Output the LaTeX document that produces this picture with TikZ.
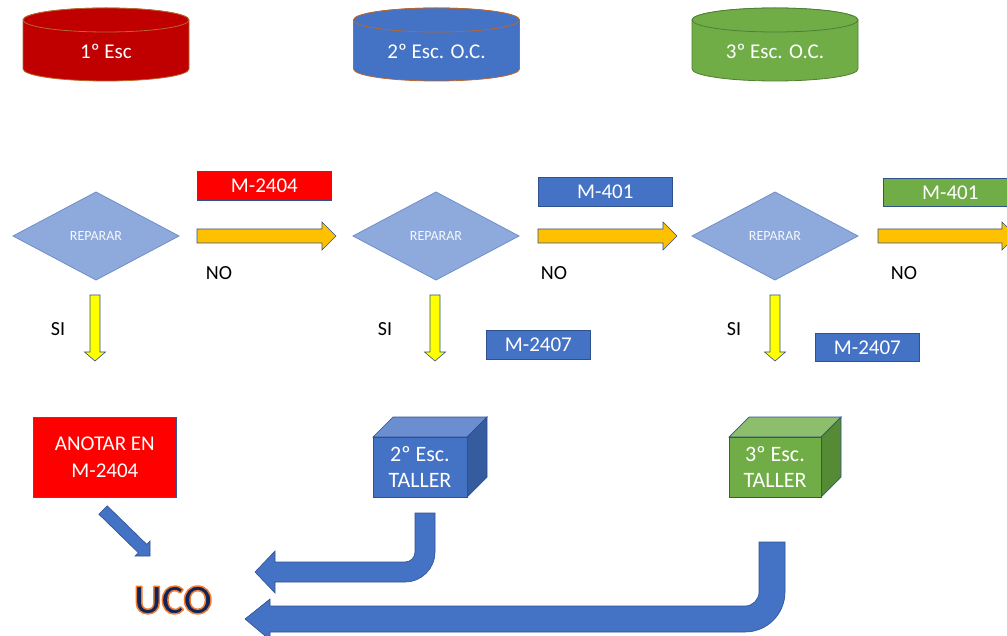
\documentclass[tikz,border=0pt]{standalone}
\usepackage{fontspec}
\setmainfont{Carlito}
\usetikzlibrary{shapes.geometric}
\definecolor{cylred}{HTML}{C00000}
\definecolor{offblue}{HTML}{4472C4}
\definecolor{offgreen}{HTML}{70AD47}
\definecolor{offline}{HTML}{2F528F}
\definecolor{cylbrown}{HTML}{B8672E}
\definecolor{greenline}{HTML}{507E32}
\definecolor{diafill}{HTML}{8EA9DB}
\definecolor{diafline}{HTML}{6F8FCB}
\definecolor{orangearr}{HTML}{FFC000}
\definecolor{yellowarr}{HTML}{FFFF00}
\definecolor{brightred}{HTML}{FF0000}
\definecolor{bluetop}{HTML}{6A8ED0}
\definecolor{blueside}{HTML}{355C9F}
\definecolor{greentop}{HTML}{8DBE6C}
\definecolor{greenside}{HTML}{568B35}
\definecolor{ucoblue}{HTML}{10235A}
\newcommand\drawcylinder[3]{%
  \filldraw[fill=#2,draw=#3,line width=0.8pt]
    ({#1-83},20) -- ({#1-83},69)
    arc[start angle=180,end angle=360,x radius=83pt,y radius=12pt]
    -- ({#1+83},20)
    arc[start angle=0,end angle=180,x radius=83pt,y radius=12pt] -- cycle;
  \filldraw[fill=#2,draw=#3,line width=0.8pt] (#1,20) ellipse[x radius=83pt,y radius=12pt];
}
\newcommand\drawdiamond[2]{%
  \filldraw[fill=diafill,draw=diafline,line width=0.8pt]
    ({#1-83},236) -- (#1,192) -- ({#1+83},236) -- (#1,280) -- cycle;
  \node[diatext] (#2) at (#1,236) {REPARAR};
}
\newcommand\orangearrow[2]{%
  \filldraw[fill=orangearr,draw=offline,line width=0.6pt]
    (#1,229) -- ({#2-14},229) -- ({#2-14},222) -- (#2,236) -- ({#2-14},250)
    -- ({#2-14},243) -- (#1,243) -- cycle;
}
\newcommand\yellowarrow[1]{%
  \filldraw[fill=yellowarr,draw=offline,line width=0.6pt]
    ({#1-5},295) -- ({#1+5},295) -- ({#1+5},352) -- ({#1+10.5},352) -- (#1,361)
    -- ({#1-10.5},352) -- ({#1-5},352) -- cycle;
}
\tikzset{
  cyltext/.style={text=white,font=\fontsize{21}{21}\selectfont,inner sep=0pt},
  diatext/.style={text=white!92!diafill,font=\fontsize{14}{14}\selectfont,inner sep=0pt},
  labelbox/.style={draw=offline,line width=0.7pt,text=white,font=\fontsize{21}{21}\selectfont,inner sep=0pt,anchor=north west},
  plain/.style={text=black,font=\fontsize{20}{20}\selectfont,inner sep=0pt},
  cubetext/.style={text=white,font=\fontsize{22}{26}\selectfont,align=center,inner sep=0pt},
  bigarrow/.style={fill=offblue,draw=offline,line width=0.6pt}
}
\begin{document}
\begin{tikzpicture}[x=1pt,y=-1pt]
\useasboundingbox (0,0) rectangle (1007,636);
\clip (0,0) rectangle (1007,636);

% cylinders
\drawcylinder{106}{cylred}{cylbrown}
\node[cyltext] (c1) at (106,51) {1º Esc};
\drawcylinder{436.5}{offblue}{cylbrown}
\node[cyltext] (c2) at (436.5,51) {2º Esc. O.C.};
\drawcylinder{775}{offgreen}{greenline}
\node[cyltext] (c3) at (775,51) {3º Esc. O.C.};

% diamonds
\drawdiamond{96}{d1}
\drawdiamond{436}{d2}
\drawdiamond{775}{d3}

% orange NO arrows
\orangearrow{197}{336}
\orangearrow{538}{677}
\orangearrow{878}{1016}

% labels above orange arrows
\node[labelbox,fill=brightred,minimum width=134pt,minimum height=29pt] (m2404) at (197,171) {M-2404};
\node[labelbox,fill=offblue,minimum width=134pt,minimum height=29pt] (m401a) at (538,177) {M-401};
\node[labelbox,fill=offgreen,minimum width=134pt,minimum height=28pt] (m401b) at (883,178) {M-401};

% NO / SI
\node[plain] (no1) at (219,273) {NO};
\node[plain] (no2) at (554,273) {NO};
\node[plain] (no3) at (904,273) {NO};
\node[plain] (si1) at (58,329) {SI};
\node[plain] (si2) at (385,329) {SI};
\node[plain] (si3) at (734,329) {SI};

% yellow SI arrows
\yellowarrow{95}
\yellowarrow{435}
\yellowarrow{775}

% M-2407 labels
\node[labelbox,fill=offblue,minimum width=104pt,minimum height=29pt] (m2407a) at (486,330) {M-2407};
\node[labelbox,fill=offblue,minimum width=104pt,minimum height=28pt] (m2407b) at (815,333) {M-2407};

% ANOTAR box
\node[draw=offblue!80!black,line width=0.7pt,fill=brightred,minimum width=143pt,minimum height=80pt,anchor=north west,
      text=white,font=\fontsize{21}{27}\selectfont,align=center,inner sep=0pt] (anotar) at (33,417) {ANOTAR EN\\M-2404};

% cube 2
\filldraw[fill=bluetop,draw=offline,line width=0.7pt] (373,437) -- (393,417) -- (487,417) -- (467,437) -- cycle;
\filldraw[fill=blueside,draw=offline,line width=0.7pt] (467,437) -- (487,417) -- (487,477) -- (467,497) -- cycle;
\node[draw=offline,line width=0.7pt,fill=offblue,minimum width=94pt,minimum height=60pt,anchor=north west] (t2box) at (373,437) {};
\node[cubetext] (t2) at (420,467) {2º Esc.\\TALLER};

% cube 3
\filldraw[fill=greentop,draw=offline,line width=0.7pt] (729,437) -- (749,417) -- (841,417) -- (821,437) -- cycle;
\filldraw[fill=greenside,draw=offline,line width=0.7pt] (821,437) -- (841,417) -- (841,477) -- (821,497) -- cycle;
\node[draw=offline,line width=0.7pt,fill=offgreen,minimum width=92pt,minimum height=60pt,anchor=north west] (t3box) at (729,437) {};
\node[cubetext] (t3) at (775,467) {3º Esc.\\TALLER};

% UCO
\node[text=ucoblue,font=\fontsize{42}{42}\selectfont\bfseries,inner sep=0pt] (uco) at (173,600)
  {\special{pdf:code 1 j 2 Tr 1.5 w 0.93 0.49 0.19 RG}UCO\special{pdf:code 0 Tr}};

% diagonal arrow ANOTAR -> UCO
\filldraw[bigarrow]
  (98.8,514.2) -- (107.2,505.8) -- (146.7,544.3) -- (150,541) -- (150,556) -- (135,556) -- (138.3,552.7) -- cycle;

% U-turn arrow from 2º taller
\filldraw[bigarrow]
  (415,513) -- (415,552) .. controls (415,557.5) and (410.5,562) .. (405,562)
  -- (275,562) -- (275,551) -- (255,572) -- (275,593) -- (275,582)
  -- (405,582) .. controls (421.6,582) and (435,568.6) .. (435,552) -- (435,513) -- cycle;

% U-turn arrow from 3º taller
\filldraw[bigarrow]
  (759,542) -- (759,592) .. controls (759,599.7) and (752.7,606) .. (745,606)
  -- (270,606) -- (270,599) -- (245,619) -- (270,640) -- (270,632)
  -- (745,632) .. controls (767.1,632) and (785,614.1) .. (785,592) -- (785,542) -- cycle;
\end{tikzpicture}
\end{document}
